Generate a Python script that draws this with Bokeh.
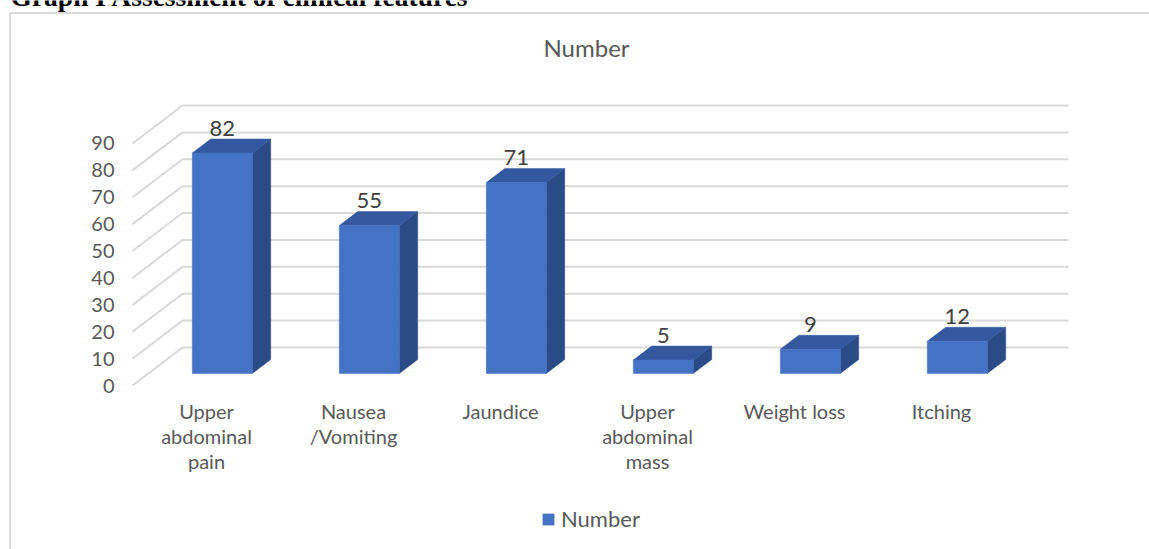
from bokeh.plotting import figure
from bokeh.models import Range1d, Legend, LegendItem, ColumnDataSource
from bokeh.embed import file_html
from bokeh.resources import INLINE
from bokeh.core.properties import value

# ---------------- data ----------------
doc_title = "Graph I Assessment of clinical features"
chart_title = "Number"
series_name = "Number"
categories = ["Upper\nabdominal\npain", "Nausea\n/Vomiting", "Jaundice",
              "Upper\nabdominal\nmass", "Weight loss", "Itching"]
values = [82, 55, 71, 5, 9, 12]
y_ticks = [0, 10, 20, 30, 40, 50, 60, 70, 80, 90]

# ---------------- layout constants (page pixels) ----------------
W, H = 1149, 549
PAGE_X0, PAGE_Y0 = 0, 0
CAT0_PX, CAT_STEP_PX = 206.0, 147.0
ZERO_PX, UNIT_PX = 385.0, 2.689


def px_to_x(px):
    return (px - CAT0_PX) / CAT_STEP_PX


def py_to_y(py):
    return (ZERO_PX - py) / UNIT_PX


DX = 50.0 / CAT_STEP_PX      # full wall depth in x (category units)
DY = 38.0 / UNIT_PX          # full wall depth in y (value units)
F_FRONT = 12.0 / 38.0        # bar front depth fraction
F_DEPTH = 14.0 / 38.0        # bar depth fraction
BAR_W = 60.0 / CAT_STEP_PX

FRONT_C = "#4472C4"
SIDE_C = "#2B4B86"
TOP_C = "#3358A0"
GRID_C = "#d9d9d9"
TXT_C = "#595959"
FONT_NAME = "Lato"
FONT = value(FONT_NAME)

p = figure(width=W, height=H,
           x_range=Range1d(px_to_x(PAGE_X0), px_to_x(PAGE_X0 + W)),
           y_range=Range1d(py_to_y(PAGE_Y0 + H), py_to_y(PAGE_Y0)),
           min_border=0, x_axis_type=None, y_axis_type=None,
           toolbar_location=None, output_backend="svg")
p.outline_line_color = None
p.background_fill_color = "white"

# ---------------- chart border ----------------
p.line(x=[px_to_x(9.5), px_to_x(9.5), px_to_x(1300)],
       y=[py_to_y(700), py_to_y(12.5), py_to_y(12.5)],
       line_color="#d0d0d0", line_width=1.5)

# ---------------- walls / gridlines ----------------
xL = px_to_x(132)
xB = xL + DX
xR = px_to_x(1068)
wall_xs = [[xL, xB, xR] for _ in y_ticks]
wall_ys = [[t, t + DY, t + DY] for t in y_ticks]
p.multi_line(xs=wall_xs, ys=wall_ys, line_color=GRID_C, line_width=2)

# ---------------- 3D bars ----------------
front_l, front_r, front_b, front_t = [], [], [], []
side_xs, side_ys, top_xs, top_ys = [], [], [], []
for i, v in enumerate(values):
    cx = i + F_FRONT * DX
    l, r = cx - BAR_W / 2, cx + BAR_W / 2
    b, t = F_FRONT * DY, v + F_FRONT * DY
    ddx, ddy = F_DEPTH * DX, F_DEPTH * DY
    front_l.append(l); front_r.append(r); front_b.append(b); front_t.append(t)
    side_xs.append([r, r + ddx, r + ddx, r])
    side_ys.append([b, b + ddy, t + ddy, t])
    top_xs.append([l, r, r + ddx, l + ddx])
    top_ys.append([t, t, t + ddy, t + ddy])

p.patches(xs=side_xs, ys=side_ys, fill_color=SIDE_C, line_color=SIDE_C, line_width=0.5)
p.patches(xs=top_xs, ys=top_ys, fill_color=TOP_C, line_color=TOP_C, line_width=0.5)
front = p.quad(left=front_l, right=front_r, bottom=front_b, top=front_t,
               fill_color=FRONT_C, line_color=FRONT_C, line_width=0.5)

# ---------------- data labels ----------------
lab_src = ColumnDataSource(dict(
    x=[i + F_FRONT * DX for i in range(len(values))],
    y=[v + (F_FRONT + F_DEPTH) * DY + 11.0 / UNIT_PX for v in values],
    t=[str(v) for v in values]))
p.text(x="x", y="y", text="t", source=lab_src, text_align="center",
       text_baseline="alphabetic", text_font=FONT, text_font_size="22px",
       text_color="#404040")

# ---------------- category labels ----------------
p.text(x=list(range(len(categories))), y=[py_to_y(398)] * len(categories),
       text=categories, text_align="center", text_baseline="top",
       text_font=FONT, text_font_size="20px", text_color=TXT_C,
       text_line_height=1.06)

# ---------------- y tick labels ----------------
p.text(x=[px_to_x(114)] * len(y_ticks), y=y_ticks,
       text=[str(t) for t in y_ticks], text_align="right",
       text_baseline="middle", text_font=FONT, text_font_size="20px",
       text_color=TXT_C)

# ---------------- titles ----------------
p.text(x=[px_to_x(586)], y=[py_to_y(47)], text=[chart_title],
       text_align="center", text_baseline="middle", text_font=FONT,
       text_font_size="24px", text_color=TXT_C)
p.text(x=[px_to_x(10)], y=[py_to_y(-4)], text=[doc_title],
       text_align="left", text_baseline="alphabetic",
       text_font=value("Liberation Serif"), text_font_style="bold",
       text_font_size="27.5px", text_color="black")

# ---------------- legend ----------------
legend = Legend(items=[LegendItem(label=series_name, renderers=[front])],
                location=(541, 17), orientation="horizontal",
                glyph_width=14, glyph_height=14, label_standoff=6,
                padding=0, margin=0, spacing=0,
                border_line_color=None, background_fill_alpha=0,
                label_text_font=FONT_NAME, label_text_font_size="22px",
                label_text_color=TXT_C)
p.add_layout(legend)

open("out.html", "w").write(file_html(p, INLINE))
